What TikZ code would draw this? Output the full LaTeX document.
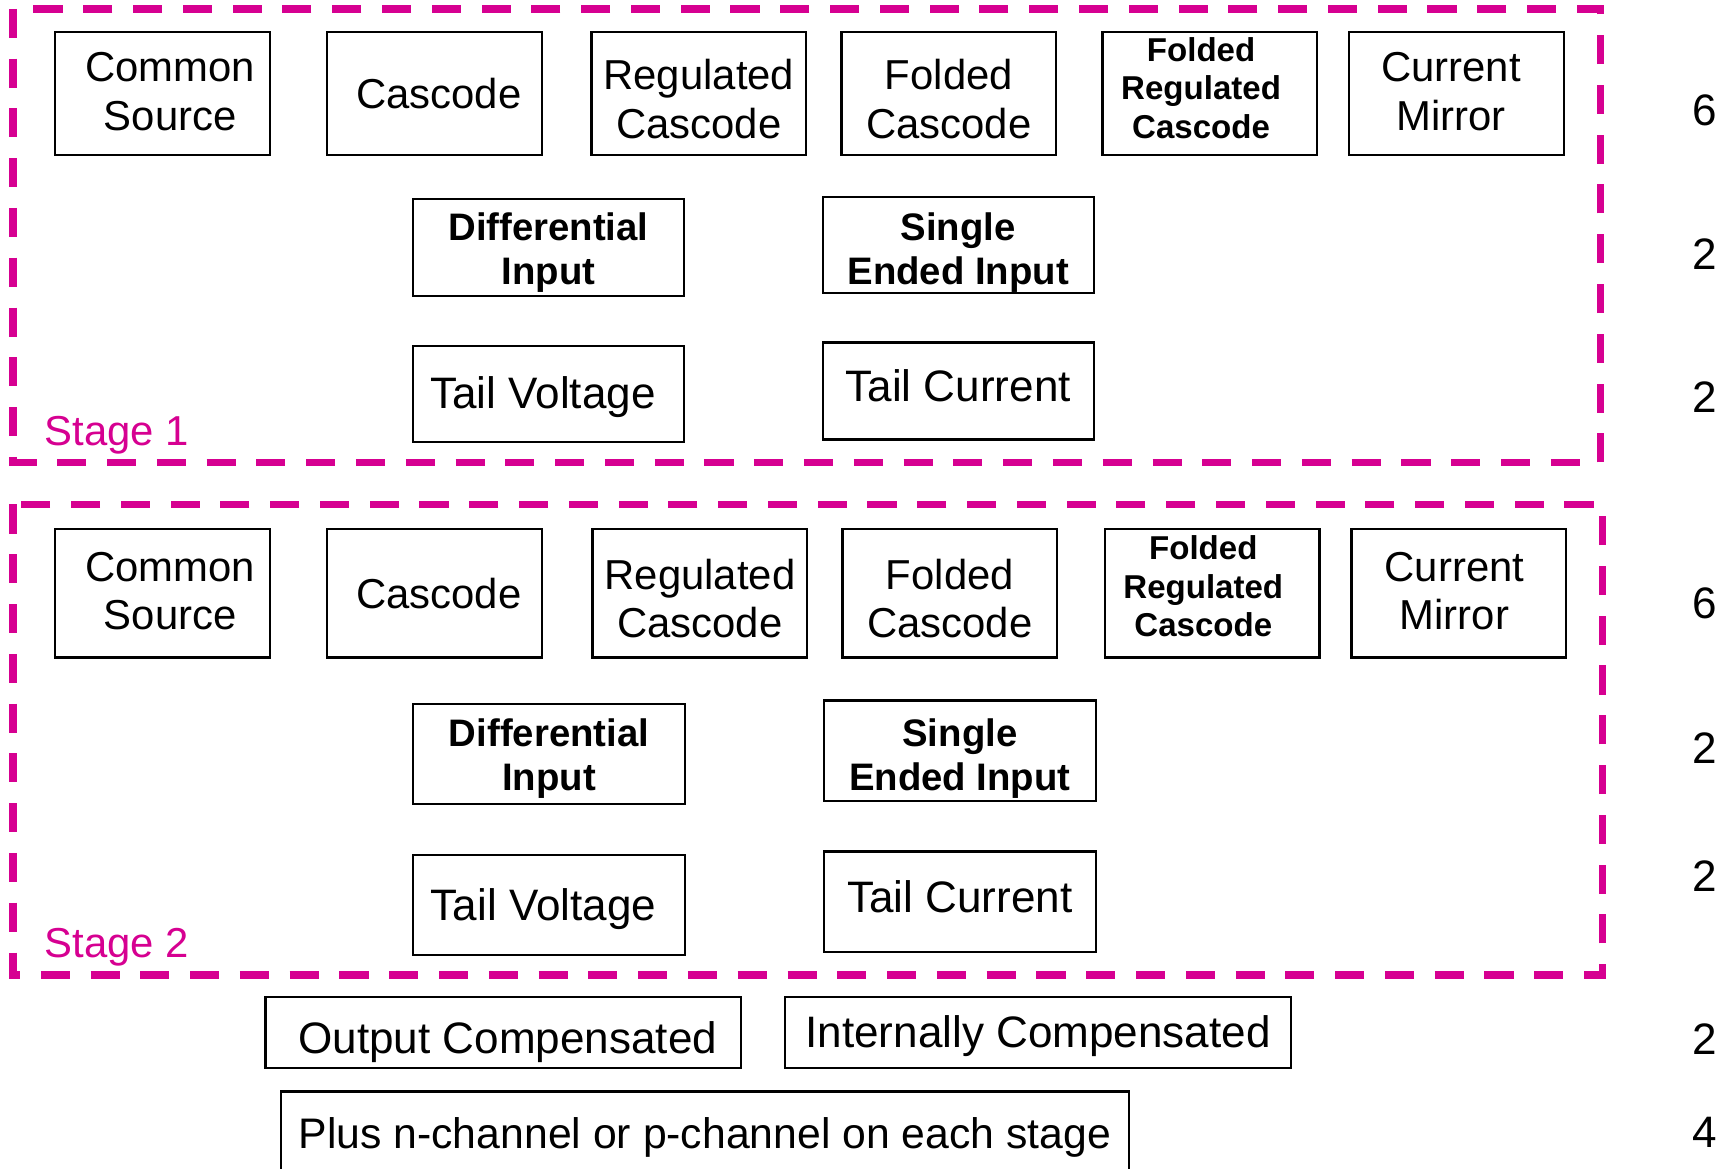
\documentclass[tikz,border=0pt]{standalone}
\usepackage{fontspec}
\setmainfont{Liberation Sans}
\definecolor{mag}{RGB}{214,0,145}
\begin{document}
\begin{tikzpicture}[x=0.5pt,y=-0.5pt,
  bx/.style={draw, line width=1pt, inner sep=0pt},
  top1/.style={bx, minimum width=97.5pt, minimum height=56pt},
  top2/.style={bx, minimum width=97.5pt, minimum height=58.5pt},
  mid/.style={bx, minimum width=123pt, minimum height=44pt},
  tf/.style={inner sep=0pt, align=center, font=\fontsize{19}{22}\selectfont},
  tft/.style={inner sep=0pt, align=center, font=\fontsize{20}{22}\selectfont},
  tfb/.style={inner sep=0pt, align=center, font=\fontsize{17.4}{20}\selectfont\bfseries},
  tfs/.style={inner sep=0pt, align=center, font=\fontsize{15}{17.5}\selectfont\bfseries},
  tfl/.style={inner sep=0pt, align=center, font=\fontsize{20}{22}\selectfont},
  stg/.style={draw=mag, line width=3.4pt, dash pattern=on 13.2pt off 9.4pt},
  stglab/.style={anchor=west, inner sep=0pt, text=mag, font=\fontsize{19}{22}\selectfont},
  cnt/.style={inner sep=0pt, font=\fontsize{20}{22}\selectfont}]
\useasboundingbox (0,0) rectangle (1568,1061);

% stage frames
\draw[stg] (12,8) rectangle (1453,420);
\draw[stg] (12,458) rectangle (1455,885);
\node[stglab] (lab1) at (40,395) {Stage 1};
\node[stglab] (lab2) at (40,860) {Stage 2};

% stage 1
\node[top1, label={[tf, yshift=1pt]center:\hspace*{7pt}Common\\\hspace*{7pt}Source}] (s1cs) at (147.5,85) {};
\node[top1, label={[tf]center:\hspace*{4pt}Cascode}] (s1cas) at (394.5,85) {};
\node[top1, label={[tf, yshift=-2.5pt]center:Regulated\\Cascode}] (s1rc) at (634.5,85) {};
\node[top1, label={[tf, yshift=-2.5pt]center:Folded\\Cascode}] (s1fc) at (861.5,85) {};
\node[top1, label={[tfs, yshift=2.5pt, xshift=-4pt]center:Folded\\Regulated\\Cascode}] (s1frc) at (1098.5,85) {};
\node[top1, label={[tf, yshift=1pt, xshift=-2.5pt]center:Current\\Mirror}] (s1cm) at (1322.5,85) {};
\node[mid, label={[tfb, yshift=-2pt]center:Differential\\Input}] (s1di) at (498,225) {};
\node[mid, minimum height=43.5pt, label={[tfb, yshift=-3.5pt]center:Single\\Ended Input}] (s1se) at (870,222.5) {};
\node[mid, minimum height=43.5pt, label={[tft, yshift=-1.5pt, xshift=-2.5pt]center:Tail Voltage}] (s1tv) at (498,357.5) {};
\node[mid, label={[tft, yshift=2.5pt]center:Tail Current}] (s1tc) at (870,355) {};

% stage 2
\node[top2, label={[tf, yshift=1pt]center:\hspace*{7pt}Common\\\hspace*{7pt}Source}] (s2cs) at (147.5,538.5) {};
\node[top2, label={[tf]center:\hspace*{4pt}Cascode}] (s2cas) at (394.5,538.5) {};
\node[top2, label={[tf, yshift=-2.5pt]center:Regulated\\Cascode}] (s2rc) at (635.5,538.5) {};
\node[top2, label={[tf, yshift=-2.5pt]center:Folded\\Cascode}] (s2fc) at (862.5,538.5) {};
\node[top2, label={[tfs, yshift=3pt, xshift=-4pt]center:Folded\\Regulated\\Cascode}] (s2frc) at (1100.5,538.5) {};
\node[top2, label={[tf, yshift=1pt, xshift=-2pt]center:Current\\Mirror}] (s2cm) at (1324.5,538.5) {};
\node[mid, minimum width=123.5pt, minimum height=45.5pt, label={[tfb, yshift=-2pt]center:Differential\\Input}] (s2di) at (498.5,684.5) {};
\node[mid, minimum width=123.5pt, minimum height=45.5pt, label={[tfb, yshift=-3.5pt]center:Single\\Ended Input}] (s2se) at (871.5,681.5) {};
\node[mid, minimum width=123.5pt, minimum height=45.5pt, label={[tft, yshift=-2pt, xshift=-2.5pt]center:Tail Voltage}] (s2tv) at (498.5,821.5) {};
\node[mid, minimum width=123.5pt, minimum height=45.5pt, label={[tft, yshift=2pt]center:Tail Current}] (s2tc) at (871.5,818.5) {};

% bottom options
\node[bx, minimum width=216pt, minimum height=32.5pt, label={[tfl, yshift=-4.5pt, xshift=2pt]center:Output Compensated}] (oc) at (457,937.5) {};
\node[bx, minimum width=229.5pt, minimum height=32.5pt, label={[tfl, yshift=-1.5pt]center:Internally Compensated}] (ic) at (942.5,937.5) {};
\node[bx, minimum width=385pt, minimum height=39pt, label={[tfl, font=\fontsize{19.4}{22}\selectfont, yshift=-1.5pt]center:Plus n-channel or p-channel on each stage}] (plus) at (640,1030) {};

% counts
\node[cnt] (n1) at (1548,100) {6};
\node[cnt] (n2) at (1548,231) {2};
\node[cnt] (n3) at (1548,361) {2};
\node[cnt] (n4) at (1548,548) {6};
\node[cnt] (n5) at (1548,679) {2};
\node[cnt] (n6) at (1548,795) {2};
\node[cnt] (n7) at (1548,943) {2};
\node[cnt] (n8) at (1548,1028) {4};
\end{tikzpicture}
\end{document}
